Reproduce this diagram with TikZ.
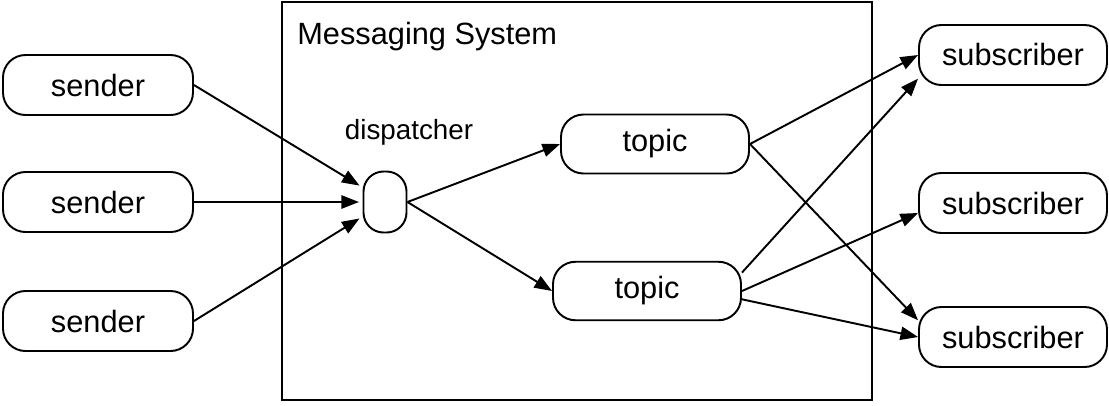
\documentclass[tikz,border=0pt]{standalone}
\usepackage{fontspec}
\setmainfont{Liberation Sans}
\usetikzlibrary{arrows.meta, calc}

\begin{document}
\begin{tikzpicture}[
        >={Triangle[length=10pt, width=7.5pt]},
        box_style/.style={draw, line width=1.1pt, rounded corners=0.45cm,
            minimum width=3.76cm, minimum height=1.2cm, inner sep=0pt,
            font=\fontsize{17.5}{20}\selectfont},
        arrow_style/.style={->, line width=1.1pt}
    ]
    \useasboundingbox (0,0) rectangle (22.18,-8.10);

    % =========================================================================
    % 1. MESSAGING SYSTEM FRAME
    % =========================================================================
    \node[draw, line width=1.4pt, minimum width=11.8cm, minimum height=7.96cm, inner sep=0pt] (msgsys) at (11.54, -4.02) {};
    \node[anchor=west, font=\fontsize{17.5}{20}\selectfont, inner sep=0pt] (msglabel) at (5.94, -0.74) {Messaging System};

    % =========================================================================
    % 2. SENDERS (Left column)
    % =========================================================================
    \node[box_style, minimum width=3.8cm] (S1) at (1.96, -1.70) {sender};
    \node[box_style, minimum width=3.8cm] (S2) at (1.96, -4.04) {sender};
    \node[box_style, minimum width=3.8cm] (S3) at (1.96, -6.42) {sender};

    % =========================================================================
    % 3. DISPATCHER AND TOPICS
    % =========================================================================
    \node[box_style, rounded corners=0.4cm, minimum width=0.86cm, minimum height=1.22cm] (D) at (7.70, -4.04) {};
    \node[font=\fontsize{15.8}{18}\selectfont, inner sep=0pt] (Dlabel) at (8.18, -2.64) {dispatcher};

    \node[box_style, minimum height=1.18cm] (T1) at (13.10, -2.88) {topic};
    \node[box_style, minimum height=1.17cm] (T2) at (12.94, -5.82) {topic};

    % =========================================================================
    % 4. SUBSCRIBERS (Right column)
    % =========================================================================
    \node[box_style] (R1) at (20.26, -1.10) {subscriber};
    \node[box_style] (R2) at (20.26, -4.06) {subscriber};
    \node[box_style] (R3) at (20.26, -6.74) {subscriber};

    % =========================================================================
    % 5. CONNECTORS
    % =========================================================================
    % senders into the dispatcher
    \draw[arrow_style, shorten >=2pt] (S1.east) -- (D.147);
    \draw[arrow_style, shorten >=2pt] (S2.east) -- (D.west);
    \draw[arrow_style, shorten >=2pt] (S3.east) -- (D.213);

    % dispatcher to topics
    \draw[arrow_style] (D.east) -- (T1.west);
    \draw[arrow_style] (D.east) -- (T2.west);

    % topics to subscribers
    \draw[arrow_style] (T1.east) -- (R1.west);
    \draw[arrow_style] (T1.east) -- (R3.170);
    \draw[arrow_style] (T2.11) -- (R1.194);
    \draw[arrow_style] (T2.east) -- (R2.186);
    \draw[arrow_style] (T2.-5) -- (R3.west);

\end{tikzpicture}
\end{document}
